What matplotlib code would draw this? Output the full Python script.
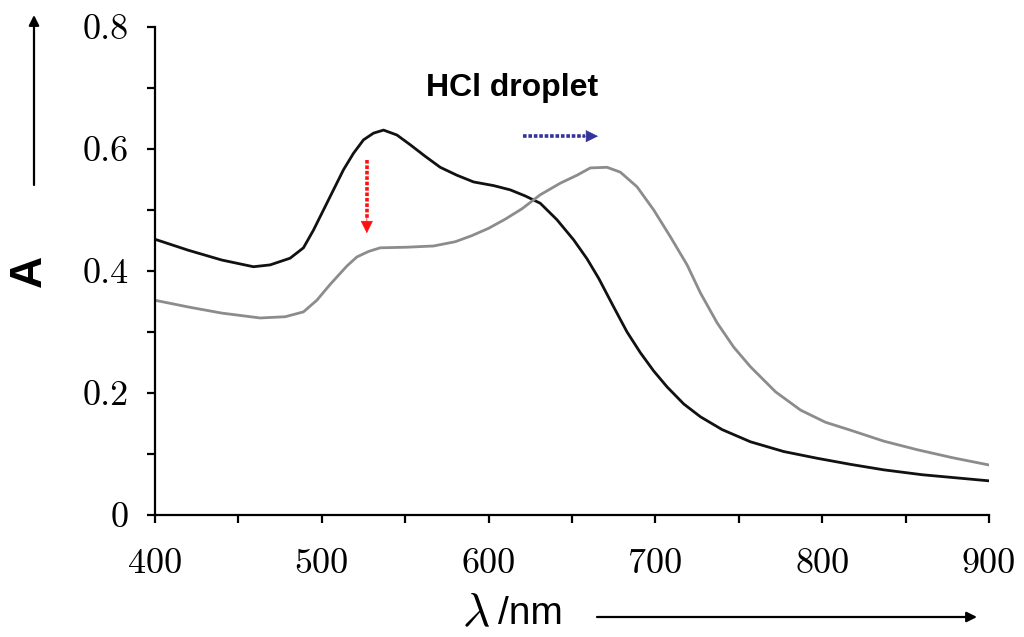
import matplotlib
matplotlib.use("Agg")
import matplotlib.pyplot as plt
from matplotlib.ticker import MultipleLocator

# ---- data ----
wl_before = [400, 420, 440, 459, 469, 481, 489, 495, 501, 507, 513, 519, 525, 531, 537,
             545, 553, 562, 571, 581, 591, 603, 613, 622, 631, 641, 651, 659, 666, 675,
             683, 691, 699, 707, 717, 727, 740, 757, 777, 797, 817, 837, 860, 880, 900]
abs_before = [0.452, 0.434, 0.418, 0.407, 0.410, 0.421, 0.438, 0.467, 0.500, 0.533, 0.566,
              0.593, 0.615, 0.626, 0.631, 0.623, 0.607, 0.588, 0.570, 0.557, 0.546, 0.540,
              0.533, 0.523, 0.511, 0.484, 0.451, 0.420, 0.388, 0.341, 0.300, 0.266, 0.236,
              0.210, 0.182, 0.161, 0.140, 0.120, 0.104, 0.093, 0.083, 0.074, 0.066, 0.061,
              0.056]

wl_after = [400, 420, 440, 463, 478, 489, 497, 505, 509, 515, 521, 528, 535, 551, 567,
            580, 590, 600, 610, 620, 631, 643, 653, 661, 671, 679, 689, 699, 709, 719,
            727, 737, 747, 757, 772, 787, 802, 817, 837, 857, 878, 900]
abs_after = [0.352, 0.341, 0.331, 0.323, 0.325, 0.333, 0.352, 0.378, 0.390, 0.408, 0.423,
             0.432, 0.438, 0.439, 0.441, 0.448, 0.458, 0.470, 0.485, 0.502, 0.525, 0.544,
             0.557, 0.569, 0.570, 0.562, 0.538, 0.500, 0.456, 0.410, 0.364, 0.315, 0.275,
             0.243, 0.202, 0.172, 0.152, 0.139, 0.121, 0.107, 0.094, 0.082]

x_ticks = [400, 500, 600, 700, 800, 900]
x_tick_labels = ["400", "500", "600", "700", "800", "900"]
y_ticks = [0, 0.2, 0.4, 0.6, 0.8]
y_tick_labels = ["0", "0.2", "0.4", "0.6", "0.8"]
annotation_text = "HCl droplet"

# ---- figure ----
fig = plt.figure(figsize=(10.24, 6.37), dpi=100)
ax = fig.add_axes([155/1024, 1 - 515/637, (989-155)/1024, (515-27)/637])

ax.plot(wl_before, abs_before, color="#111111", lw=2.0, solid_joinstyle="round")
ax.plot(wl_after, abs_after, color="#8c8c8c", lw=2.0, solid_joinstyle="round")

ax.set_xlim(400, 900)
ax.set_ylim(0, 0.8)
for s in ["top", "right"]:
    ax.spines[s].set_visible(False)
for s in ["left", "bottom"]:
    ax.spines[s].set_linewidth(1.6)
    ax.spines[s].set_color("black")

ax.set_xticks(x_ticks)
ax.set_xticklabels(x_tick_labels, fontfamily="cmr10", fontsize=26)
ax.set_yticks(y_ticks)
ax.set_yticklabels(y_tick_labels, fontfamily="cmr10", fontsize=26)
ax.xaxis.set_minor_locator(MultipleLocator(50))
ax.yaxis.set_minor_locator(MultipleLocator(0.1))
ax.tick_params(which="both", direction="out", length=6, width=1.6, color="black")
ax.tick_params(axis="x", which="major", pad=18)
ax.tick_params(axis="y", which="major", pad=13)

# annotation text
ax.text(614, 0.70, annotation_text, fontsize=23, fontweight="bold",
        fontfamily="Liberation Sans", ha="center", va="center")

# red dotted arrow (decrease)
ax.plot([527, 527], [0.582, 0.485], color="#ff1010", lw=2.6, linestyle=(0, (1, 0.5)))
ax.annotate("", xy=(527, 0.462), xytext=(527, 0.49),
            arrowprops=dict(arrowstyle="-|>,head_length=0.8,head_width=0.4",
                            color="#ff1010", lw=0.5, shrinkA=0, shrinkB=0))
# blue dotted arrow (red shift)
ax.plot([620.6, 658], [0.621, 0.621], color="#333399", lw=2.6, linestyle=(0, (1, 0.5)))
ax.annotate("", xy=(665.6, 0.621), xytext=(656, 0.621),
            arrowprops=dict(arrowstyle="-|>,head_length=0.8,head_width=0.4",
                            color="#333399", lw=0.5, shrinkA=0, shrinkB=0))

# axis labels
fig.text(29/1024, 1 - 271/637, "A", fontsize=32, fontweight="bold",
         fontfamily="Liberation Sans", rotation=90, ha="center", va="center")
fig.text(476/1024, 1 - 614/637, r"$\lambda$", fontsize=34,
         ha="center", va="center", math_fontfamily="cm")
fig.text(498/1024, 1 - 614/637, "/nm", fontsize=28,
         fontfamily="Liberation Sans", ha="left", va="center")

# long arrows
fig.add_artist(matplotlib.patches.FancyArrowPatch(
    (34/1024, 1 - 185/637), (34/1024, 1 - 15/637), transform=fig.transFigure,
    arrowstyle="-|>,head_length=6,head_width=3", color="black", lw=1.6,
    shrinkA=0, shrinkB=0))
fig.add_artist(matplotlib.patches.FancyArrowPatch(
    (597/1024, 1 - 617/637), (977/1024, 1 - 617/637), transform=fig.transFigure,
    arrowstyle="-|>,head_length=6,head_width=3", color="black", lw=1.6,
    shrinkA=0, shrinkB=0))

fig.savefig("out.png", dpi=100)
